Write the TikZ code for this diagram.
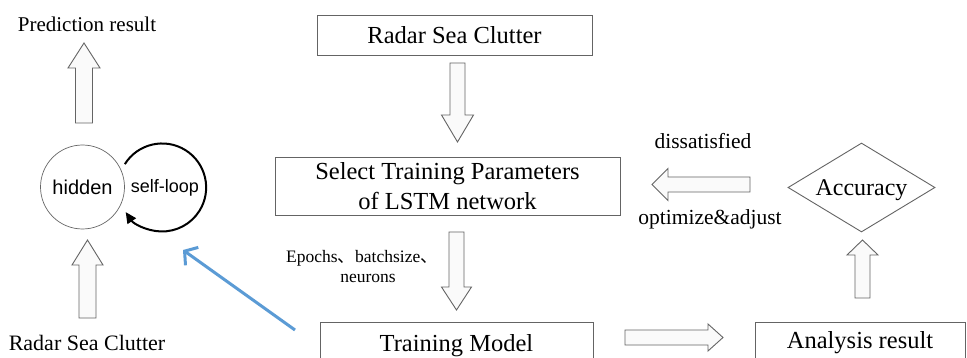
\documentclass[tikz,border=0pt]{standalone}
\usepackage{fontspec}
\setmainfont{Liberation Serif}
\newfontfamily\arialf{Liberation Sans}
\newfontfamily\cjkf{Noto Sans CJK SC}
\usetikzlibrary{shapes.geometric,arrows.meta}
\definecolor{blueArr}{RGB}{91,155,213}
\definecolor{lineGray}{RGB}{100,100,100}
\newcommand{\vbarrow}[6]{\draw[barrow] ({#1-#5},#2) -- ({#1+#5},#2) -- ({#1+#5},#3) -- ({#1+#6},#3) -- (#1,#4) -- ({#1-#6},#3) -- ({#1-#5},#3) -- cycle;}
\newcommand{\hbarrow}[6]{\draw[barrow] (#2,{#1-#5}) -- (#2,{#1+#5}) -- (#3,{#1+#5}) -- (#3,{#1+#6}) -- (#4,#1) -- (#3,{#1-#6}) -- (#3,{#1-#5}) -- cycle;}
\begin{document}
\begin{tikzpicture}[x=1pt,y=-1pt,
  box/.style={draw=lineGray, line width=0.9pt, rectangle, inner sep=0pt, align=center, font=\fontsize{24.5}{30}\selectfont},
  barrow/.style={draw=lineGray, line width=0.9pt, fill=gray!4},
  lbl/.style={inner sep=0pt, anchor=base}]
\useasboundingbox (0,0) rectangle (967,358);
\clip (0,0) rectangle (967,358);
\fill[white] (0,0) rectangle (967,358);

% boxes
\node[box, minimum width=275pt, minimum height=40pt] (rsc) at (454.5,35) {Radar Sea Clutter};
\node[box, minimum width=345pt, minimum height=58pt] (sel) at (447.5,186) {Select Training Parameters\\of LSTM network};
\node[box, minimum width=273pt, anchor=north, text height=29pt, text depth=60pt] (tm) at (456.5,322) {Training Model};
\node[box, minimum width=210pt, anchor=north, text height=26pt, text depth=60pt] (ar) at (860,322) {Analysis result};
\node[draw=lineGray, line width=0.9pt, diamond, aspect=1.65, minimum width=147pt, minimum height=89pt, inner sep=0pt, text depth=0pt, font=\fontsize{24}{28}\selectfont] (acc) at (861.5,187.5) {Accuracy};
\node[draw=black!60, line width=0.7pt, circle, minimum size=84pt, inner sep=0pt, text depth=0pt, font=\arialf\fontsize{20}{24}\selectfont] (hid) at (82.5,187) {hidden};

% block arrows
\vbarrow{84}{123}{68}{43}{8.5}{16}
\vbarrow{87.5}{318}{265}{240}{8.5}{15.5}
\vbarrow{457.5}{63}{115}{142}{7.5}{16}
\vbarrow{456.5}{232}{287}{310}{7.5}{15}
\hbarrow{184.5}{750}{668}{652}{7.5}{16}
\vbarrow{862.5}{298}{255}{240}{7.5}{15.5}
\hbarrow{337.5}{625}{708}{723}{7.5}{13.5}

% self loop
\coordinate (lc) at (163,188);
\draw[line width=2pt, -{Triangle[length=11pt,width=10pt]}] ([shift={(148:45pt)}]lc) arc[start angle=148, end angle=-146, radius=44pt];
\node[lbl, font=\arialf\fontsize{18}{22}\selectfont] (sl) at (165,193) {self-loop};

% blue arrow
\coordinate (bs) at (295,330);
\coordinate (be) at (183,250);
\draw[blueArr, line width=3pt, -{Straight Barb[length=9pt,width=22pt,line width=3pt]}] (bs) -- (be);

% labels
\node[lbl, font=\fontsize{21}{24}\selectfont] (pr) at (87,32) {Prediction result};
\node[lbl, font=\fontsize{22}{26}\selectfont] (rin) at (87,350) {Radar Sea Clutter};
\node[lbl, font=\fontsize{21.5}{26}\selectfont] (dis) at (703,149) {dissatisfied};
\node[lbl, font=\fontsize{21.5}{26}\selectfont] (opt) at (710,225) {optimize\&adjust};
\node[lbl, font=\fontsize{17.5}{22}\selectfont] (ep1) at (362,263) {Epochs{\cjkf 、}batchsize{\cjkf 、}};
\node[lbl, font=\fontsize{17.5}{22}\selectfont] (ep2) at (368,283) {neurons};
\end{tikzpicture}
\end{document}
